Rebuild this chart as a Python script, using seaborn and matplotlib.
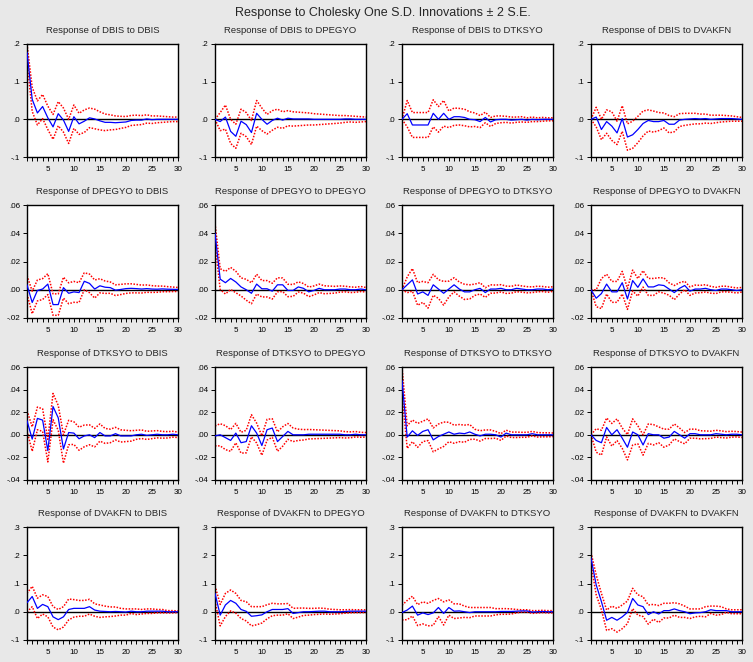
import numpy as np
import matplotlib
matplotlib.use("Agg")
import matplotlib.pyplot as plt
import seaborn as sns
from matplotlib.ticker import FixedLocator, FuncFormatter

sns.set_style("white")
plt.rcParams['font.family'] = ['Liberation Sans', 'DejaVu Sans']

# ================== data ==================
periods = list(range(1, 31))
variables = ["DBIS", "DPEGYO", "DTKSYO", "DVAKFN"]

# responses of DBIS
dbis_dbis = [0.178, 0.053, 0.017, 0.034, 0.004, -0.02, 0.015, -0.002, -0.032, 0.007, -0.012, -0.005, 0.004, 0.001, -0.004,
             -0.008, -0.008, -0.009, -0.008, -0.007, -0.003, -0.002, -0.002, 0.001, -0.001, 0.0, 0.0, 0.0, 0.0, 0.0]
dbis_dbis_se = [0.011, 0.016, 0.016, 0.016, 0.0155, 0.0165, 0.016, 0.016, 0.016, 0.0155, 0.014, 0.015, 0.013, 0.013, 0.012,
                0.011, 0.010, 0.009, 0.008, 0.0072, 0.0067, 0.0065, 0.006, 0.0055, 0.005, 0.0045, 0.004, 0.0035, 0.003, 0.003]
dbis_dpegyo = [0.0, -0.006, 0.006, -0.032, -0.045, -0.005, -0.014, -0.035, 0.016, 0.0, -0.013, -0.003, 0.003, -0.002, 0.003,
               0.001, 0.001, 0.001, 0.001, 0.0, 0.0, 0.0, 0.0, 0.0, 0.0, 0.001, 0.001, 0.0, 0.0, 0.0]
dbis_dpegyo_se = [0.0, 0.012, 0.016, 0.016, 0.016, 0.016, 0.016, 0.016, 0.017, 0.015, 0.013, 0.013, 0.012, 0.011, 0.010,
                  0.0095, 0.009, 0.0085, 0.008, 0.0075, 0.007, 0.0065, 0.006, 0.0055, 0.005, 0.0045, 0.004, 0.004, 0.0035, 0.003]
dbis_dtksyo = [0.0, 0.015, -0.015, -0.015, -0.015, -0.015, 0.016, 0.0, 0.016, 0.0, 0.007, 0.007, 0.005, 0.0, -0.001,
               -0.006, 0.005, -0.007, -0.001, 0.0, 0.0, -0.002, -0.001, 0.0, -0.002, 0.0, -0.001, 0.0, 0.0, 0.0]
dbis_dtksyo_se = [0.0, 0.0175, 0.0165, 0.0165, 0.0165, 0.0165, 0.018, 0.017, 0.017, 0.011, 0.0115, 0.011, 0.011, 0.01, 0.009,
                  0.008, 0.007, 0.006, 0.005, 0.0045, 0.004, 0.004, 0.0035, 0.0035, 0.003, 0.003, 0.0025, 0.0025, 0.002, 0.002]
dbis_dvakfn = [0.0, 0.006, -0.027, -0.006, -0.018, -0.036, 0.002, -0.047, -0.041, -0.027, -0.011, -0.003, -0.006, -0.006, -0.003,
               -0.013, -0.013, -0.002, 0.0, 0.001, 0.002, 0.001, 0.002, 0.0, 0.001, 0.002, 0.002, 0.002, 0.001, 0.0]
dbis_dvakfn_se = [0.0, 0.013, 0.0135, 0.0155, 0.019, 0.0155, 0.017, 0.0175, 0.018, 0.0175, 0.0165, 0.014, 0.014, 0.012, 0.01,
                  0.0115, 0.01, 0.0085, 0.008, 0.0075, 0.007, 0.0065, 0.006, 0.0055, 0.005, 0.0045, 0.004, 0.0035, 0.003, 0.0025]

# responses of DPEGYO
dpegyo_dbis = [0.0035, -0.009, -0.0005, 0.0005, 0.004, -0.0105, -0.0105, 0.0015, -0.0025, -0.0015, -0.002, 0.006, 0.0045, 0.0005, 0.0028,
               0.0018, 0.0015, -0.0003, 0.0002, 0.0008, 0.001, 0.0008, 0.0005, 0.0008, 0.0005, 0.0004, 0.0006, 0.0004, 0.0003, 0.0002]
dpegyo_dbis_se = [0.0033, 0.004, 0.0037, 0.0037, 0.0037, 0.0038, 0.0038, 0.0037, 0.0037, 0.0037, 0.0035, 0.003, 0.0033, 0.0032, 0.0025,
                  0.0022, 0.002, 0.0019, 0.0018, 0.0017, 0.0016, 0.0015, 0.0014, 0.0013, 0.0012, 0.0011, 0.001, 0.0009, 0.0008, 0.0007]
dpegyo_dpegyo = [0.040, 0.0075, 0.005, 0.008, 0.0055, 0.002, 0.0, -0.0025, 0.004, 0.0007, 0.0007, -0.001, 0.0035, 0.0035, -0.0005,
                 -0.0005, 0.002, 0.001, -0.0015, -0.0005, 0.001, 0.0, 0.0, 0.0, 0.0005, 0.0005, 0.0, 0.0, 0.0005, 0.0]
dpegyo_dpegyo_se = [0.0035, 0.0037, 0.004, 0.0039, 0.0038, 0.0032, 0.0037, 0.0037, 0.0035, 0.0029, 0.0029, 0.0028, 0.0025, 0.0024, 0.0022,
                    0.0021, 0.0018, 0.0017, 0.0017, 0.0016, 0.0015, 0.0014, 0.0013, 0.0012, 0.0011, 0.001, 0.001, 0.0009, 0.0009, 0.0008]
dpegyo_dtksyo = [0.0, 0.0035, 0.007, -0.003, -0.0015, -0.004, 0.0035, 0.0005, -0.0025, 0.0005, 0.0035, 0.0005, -0.0015, -0.0015, 0.0,
                 0.001, -0.002, 0.0005, 0.0005, 0.001, 0.0, 0.0, 0.001, 0.0005, 0.0, 0.0, 0.0005, 0.0005, 0.0, 0.0005]
dpegyo_dtksyo_se = [0.0, 0.0028, 0.004, 0.004, 0.0037, 0.0045, 0.0037, 0.0033, 0.0042, 0.0028, 0.0025, 0.0025, 0.0027, 0.0025, 0.002,
                    0.002, 0.0017, 0.0015, 0.0014, 0.0013, 0.0013, 0.0012, 0.0012, 0.0011, 0.0011, 0.001, 0.001, 0.0009, 0.0009, 0.0008]
dpegyo_dvakfn = [0.0, -0.006, -0.0027, 0.004, -0.0015, -0.0015, 0.005, -0.0065, 0.0065, 0.0017, 0.0077, 0.002, 0.002, 0.0035, 0.003,
                 0.0005, -0.002, 0.001, 0.003, -0.001, 0.0005, 0.0005, 0.001, 0.0, -0.0005, 0.0005, 0.0005, 0.0, -0.0005, 0.0]
dpegyo_dvakfn_se = [0.0, 0.003, 0.0053, 0.0035, 0.0037, 0.0037, 0.004, 0.0037, 0.0037, 0.0031, 0.0029, 0.003, 0.003, 0.0025, 0.0027,
                    0.0022, 0.0025, 0.002, 0.0015, 0.0015, 0.0014, 0.0013, 0.0013, 0.0012, 0.0011, 0.001, 0.001, 0.0009, 0.0009, 0.0008]

# responses of DTKSYO
dtksyo_dbis = [0.0125, -0.0038, 0.0145, 0.013, -0.014, 0.025, 0.015, -0.0125, 0.002, 0.0015, -0.0035, -0.001, 0.0, -0.0025, 0.002,
               -0.001, -0.001, 0.001, -0.001, -0.001, -0.001, 0.0, 0.0005, -0.0005, 0.0, 0.0005, 0.0, 0.0, 0.0005, 0.0]
dtksyo_dbis_se = [0.0045, 0.0054, 0.005, 0.005, 0.005, 0.0058, 0.0055, 0.0063, 0.0054, 0.005, 0.0051, 0.0048, 0.0044, 0.0041, 0.0038,
                  0.0033, 0.003, 0.0028, 0.0027, 0.0025, 0.0023, 0.002, 0.0019, 0.0018, 0.0017, 0.0016, 0.0015, 0.0014, 0.0013, 0.0012]
dtksyo_dpegyo = [-0.001, 0.0, -0.0025, -0.005, 0.0015, -0.007, -0.006, 0.008, 0.0015, -0.0095, 0.0045, 0.006, -0.006, -0.0015, 0.003,
                 0.0, 0.0, 0.0, 0.0005, 0.0005, 0.0005, 0.0005, 0.0005, 0.0005, 0.0005, 0.0, 0.0, 0.0005, 0.0, 0.0]
dtksyo_dpegyo_se = [0.0044, 0.0049, 0.0053, 0.0048, 0.0043, 0.0046, 0.005, 0.0049, 0.0044, 0.0043, 0.0046, 0.0041, 0.0043, 0.0043, 0.0035,
                    0.003, 0.0025, 0.0023, 0.0021, 0.002, 0.0019, 0.0018, 0.0017, 0.0016, 0.0015, 0.0014, 0.0013, 0.0012, 0.0011, 0.001]
dtksyo_dtksyo = [0.048, -0.002, 0.0035, -0.0005, 0.003, 0.0045, -0.0045, -0.0015, 0.0005, 0.0025, 0.0005, 0.0015, 0.001, 0.0025, 0.0005,
                 -0.001, 0.0005, 0.0005, 0.0, -0.002, 0.0015, 0.0, 0.0, 0.0, 0.0, 0.001, 0.0, 0.0, 0.0, 0.0]
dtksyo_dtksyo_se = [0.006, 0.005, 0.0048, 0.0053, 0.0045, 0.0048, 0.0053, 0.0055, 0.0054, 0.0043, 0.004, 0.0038, 0.0038, 0.0033, 0.0022,
                    0.0023, 0.0019, 0.0019, 0.0015, 0.0015, 0.0013, 0.0012, 0.0012, 0.0011, 0.0011, 0.001, 0.001, 0.0009, 0.0009, 0.0008]
dtksyo_dvakfn = [0.0, -0.005, -0.007, 0.0065, 0.0, 0.0045, -0.003, -0.011, 0.0025, 0.0, -0.009, 0.001, 0.0, 0.0, -0.003,
                 -0.002, 0.003, 0.0, -0.003, 0.001, 0.001, 0.0, 0.0, 0.0, 0.001, 0.0005, 0.0, 0.0005, 0.0005, 0.0]
dtksyo_dvakfn_se = [0.0, 0.0052, 0.0055, 0.0042, 0.005, 0.0048, 0.0045, 0.0056, 0.0058, 0.004, 0.0045, 0.0043, 0.0045, 0.0035, 0.004,
                    0.0035, 0.0033, 0.003, 0.0025, 0.002, 0.002, 0.0018, 0.0017, 0.0016, 0.0015, 0.0015, 0.0014, 0.0013, 0.0012, 0.0012]

# responses of DVAKFN
dvakfn_dbis = [0.032, 0.054, 0.012, 0.026, 0.018, -0.018, -0.028, -0.018, 0.008, 0.012, 0.012, 0.012, 0.018, 0.006, 0.002,
               0.001, 0.0, 0.001, 0.0, -0.001, 0.002, 0.0, 0.0, 0.002, 0.002, 0.002, 0.002, 0.0, 0.0, 0.0]
dvakfn_dbis_se = [0.0165, 0.018, 0.018, 0.017, 0.018, 0.018, 0.018, 0.018, 0.0185, 0.0155, 0.014, 0.014, 0.013, 0.011, 0.011,
                  0.0095, 0.0085, 0.008, 0.006, 0.0055, 0.004, 0.005, 0.004, 0.004, 0.004, 0.003, 0.003, 0.002, 0.002, 0.0015]
dvakfn_dpegyo = [0.065, -0.012, 0.024, 0.04, 0.03, 0.008, 0.0015, -0.016, -0.014, -0.011, 0.0, 0.008, 0.008, 0.008, 0.011,
                 -0.006, -0.003, 0.0, 0.0, 0.001, 0.002, 0.002, 0.0, 0.0, 0.0, 0.001, 0.002, 0.002, 0.002, 0.002]
dvakfn_dpegyo_se = [0.0135, 0.019, 0.0205, 0.0185, 0.0175, 0.016, 0.017, 0.017, 0.016, 0.0145, 0.0125, 0.011, 0.01, 0.01, 0.009,
                    0.009, 0.008, 0.0065, 0.006, 0.0055, 0.0055, 0.005, 0.0045, 0.004, 0.0035, 0.003, 0.0028, 0.0025, 0.0025, 0.0023]
dvakfn_dtksyo = [-0.003, 0.006, 0.02, -0.012, -0.004, -0.01, -0.004, 0.015, -0.006, 0.015, 0.002, 0.003, 0.0, -0.003, 0.0,
                 0.0, 0.0, 0.0, 0.0, 0.001, 0.001, 0.001, 0.002, 0.003, 0.003, -0.001, 0.0, 0.001, 0.0, 0.0]
dvakfn_dtksyo_se = [0.013, 0.017, 0.0175, 0.0185, 0.0195, 0.02, 0.022, 0.016, 0.0205, 0.0135, 0.013, 0.0125, 0.01, 0.009, 0.0075,
                    0.0075, 0.0075, 0.0075, 0.0055, 0.005, 0.005, 0.0045, 0.003, 0.002, 0.002, 0.0025, 0.002, 0.002, 0.002, 0.002]
dvakfn_dvakfn = [0.19, 0.095, 0.036, -0.03, -0.02, -0.03, -0.018, -0.002, 0.047, 0.024, 0.018, -0.01, 0.0, -0.008, 0.004,
                 0.004, 0.01, 0.004, 0.0, -0.007, -0.004, -0.003, 0.0, 0.007, 0.004, 0.004, 0.004, 0.0, 0.0, 0.0]
dvakfn_dvakfn_se = [0.01, 0.0175, 0.0145, 0.018, 0.02, 0.021, 0.021, 0.02, 0.018, 0.018, 0.0175, 0.017, 0.013, 0.015, 0.013,
                    0.013, 0.011, 0.012, 0.01, 0.0085, 0.007, 0.0065, 0.009, 0.0065, 0.008, 0.007, 0.003, 0.0035, 0.0035, 0.0035]

# y-axis settings per row (response variable)
row_ylim = [(-0.1, 0.2), (-0.02, 0.06), (-0.04, 0.06), (-0.1, 0.3)]
row_yticks = [[-0.1, 0.0, 0.1, 0.2],
              [-0.02, 0.0, 0.02, 0.04, 0.06],
              [-0.04, -0.02, 0.0, 0.02, 0.04, 0.06],
              [-0.1, 0.0, 0.1, 0.2, 0.3]]
row_decimals = [1, 2, 2, 1]

panels = [
    [(dbis_dbis, dbis_dbis_se), (dbis_dpegyo, dbis_dpegyo_se), (dbis_dtksyo, dbis_dtksyo_se), (dbis_dvakfn, dbis_dvakfn_se)],
    [(dpegyo_dbis, dpegyo_dbis_se), (dpegyo_dpegyo, dpegyo_dpegyo_se), (dpegyo_dtksyo, dpegyo_dtksyo_se), (dpegyo_dvakfn, dpegyo_dvakfn_se)],
    [(dtksyo_dbis, dtksyo_dbis_se), (dtksyo_dpegyo, dtksyo_dpegyo_se), (dtksyo_dtksyo, dtksyo_dtksyo_se), (dtksyo_dvakfn, dtksyo_dvakfn_se)],
    [(dvakfn_dbis, dvakfn_dbis_se), (dvakfn_dpegyo, dvakfn_dpegyo_se), (dvakfn_dtksyo, dvakfn_dtksyo_se), (dvakfn_dvakfn, dvakfn_dvakfn_se)],
]


def eviews_fmt(decimals):
    # EViews style: ".2", "-.1", ".00"
    def f(v, pos):
        s = f"{v:.{decimals}f}"
        if s.startswith("-0."):
            s = "-" + s[2:]
        elif s.startswith("0."):
            s = s[1:]
        return s
    return f


# ================== drawing ==================
W, H = 753, 662
fig = plt.figure(figsize=(W / 100, H / 100), dpi=100, facecolor="#e8e8e8")

col_left = [27, 215, 402, 591]
row_top = [44, 205, 367, 527]
ax_w, ax_h = 151, 113

x = np.array(periods)
for r in range(4):
    for c in range(4):
        resp, se = panels[r][c]
        resp = np.array(resp)
        se = np.array(se)
        ax = fig.add_axes([col_left[c] / W, 1 - (row_top[r] + ax_h) / H, ax_w / W, ax_h / H])
        ax.set_facecolor("white")

        ax.axhline(0, color="black", lw=1.0, zorder=1)
        sns.lineplot(x=x, y=resp + 2 * se, ax=ax, color="red", lw=1.1, linestyle=(0, (1, 1)), zorder=2)
        sns.lineplot(x=x, y=resp - 2 * se, ax=ax, color="red", lw=1.1, linestyle=(0, (1, 1)), zorder=2)
        sns.lineplot(x=x, y=resp, ax=ax, color="blue", lw=0.9, zorder=3)

        ax.set_xlim(1, 30)
        ax.set_ylim(*row_ylim[r])
        ax.xaxis.set_major_locator(FixedLocator([5, 10, 15, 20, 25, 30]))
        ax.xaxis.set_minor_locator(FixedLocator(periods))
        ax.set_yticks(row_yticks[r])
        ax.yaxis.set_major_formatter(FuncFormatter(eviews_fmt(row_decimals[r])))
        ax.tick_params(axis="both", which="both", direction="out", length=3, width=0.7,
                       labelsize=5.8, bottom=True, left=True, colors="black")
        ax.tick_params(axis="x", which="major", pad=3.5)
        ax.tick_params(axis="y", which="major", pad=2)
        ax.set_xlabel("")
        ax.set_ylabel("")
        for sp in ax.spines.values():
            sp.set_color("black")
            sp.set_linewidth(1.0)

        ax.set_title(f"Response of {variables[r]} to {variables[c]}", fontsize=6.8, pad=8)

fig.text(0.508, 0.989, "Response to Cholesky One S.D. Innovations \u00b1 2 S.E.",
         ha="center", va="top", fontsize=9)

fig.savefig("out.png", dpi=100, facecolor=fig.get_facecolor())
